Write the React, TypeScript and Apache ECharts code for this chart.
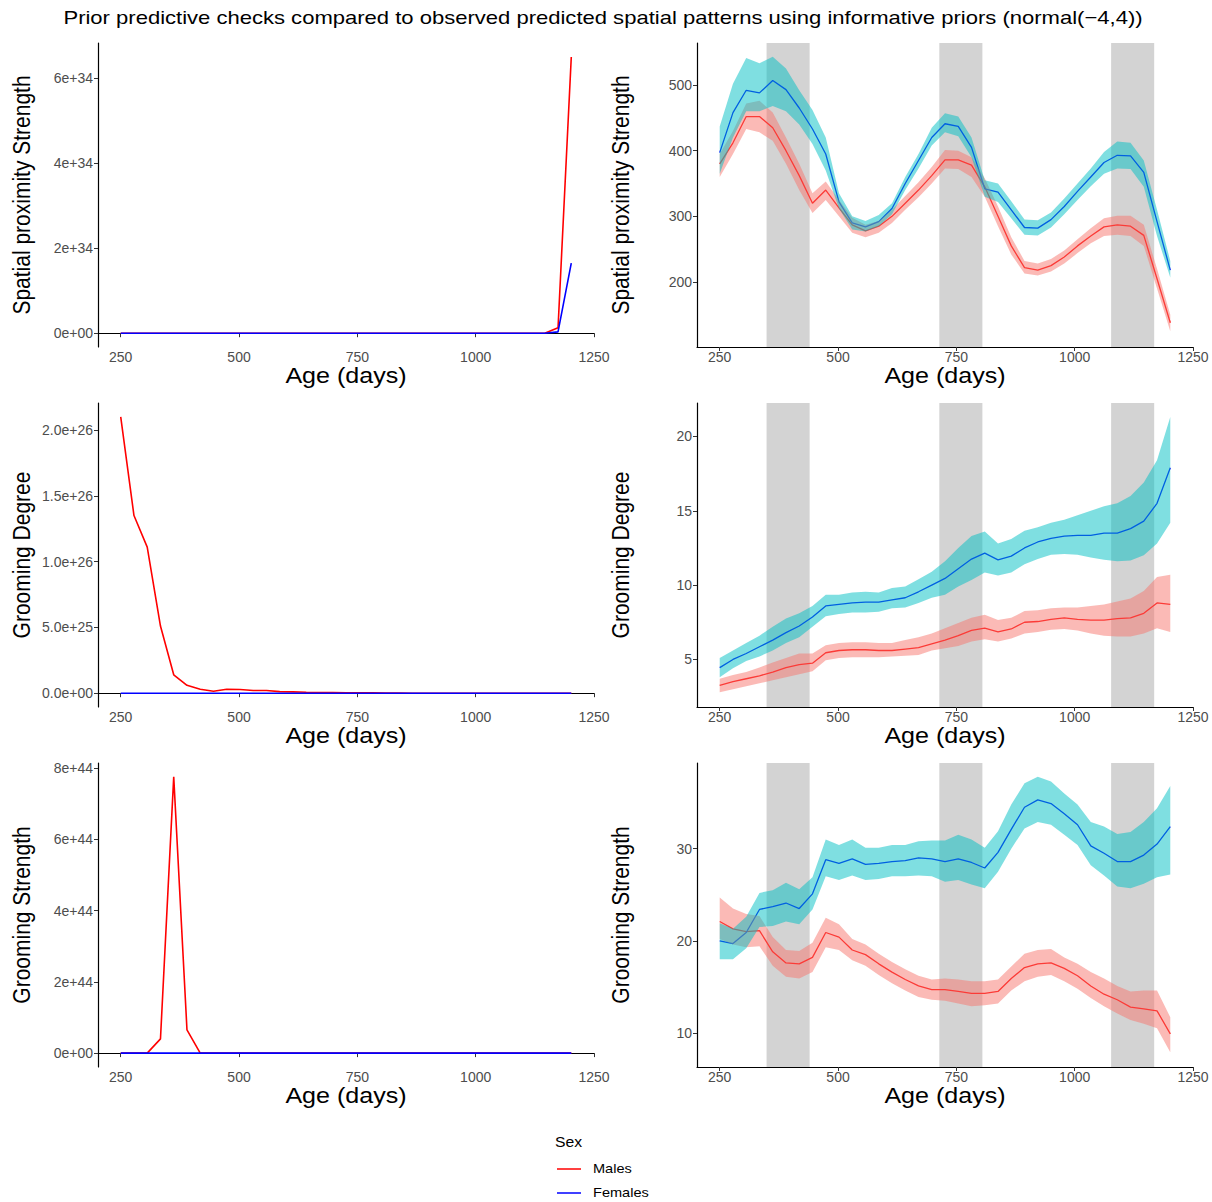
import React, { useEffect, useRef } from "react";
import * as echarts from "echarts";

// ---------- data ----------
const AGES = [250, 278, 306, 334, 362, 390, 418, 446, 474, 502, 530, 558, 586, 614, 642, 670, 698, 726, 754, 782, 810, 838, 866, 894, 922, 950, 978, 1006, 1034, 1062, 1090, 1118, 1146, 1174, 1202];

// prior predictive (left column)
const PRIOR_PROX_M = [0, 0, 0, 0, 0, 0, 0, 0, 0, 0, 0, 0, 0, 0, 0, 0, 0, 0, 0, 0, 0, 0, 0, 0, 0, 0, 0, 0, 0, 0, 0, 0, 0, 1.3e33, 6.5e34];
const PRIOR_PROX_F = [0, 0, 0, 0, 0, 0, 0, 0, 0, 0, 0, 0, 0, 0, 0, 0, 0, 0, 0, 0, 0, 0, 0, 0, 0, 0, 0, 0, 0, 0, 0, 0, 0, 3e32, 1.65e34];
const PRIOR_DEG_M = [2.1e26, 1.35e26, 1.11e26, 5.1e25, 1.4e25, 6.0e24, 3.0e24, 1.5e24, 3.0e24, 2.8e24, 2.0e24, 2.0e24, 1.2e24, 1.0e24, 7e23, 5e23, 4e23, 3e23, 2.5e23, 2e23, 1e23, 5e22, 0, 0, 0, 0, 0, 0, 0, 0, 0, 0, 0, 0, 0];
const PRIOR_DEG_F = [0, 0, 0, 0, 0, 0, 0, 0, 0, 0, 0, 0, 0, 0, 0, 0, 0, 0, 0, 0, 0, 0, 0, 0, 0, 0, 0, 0, 0, 0, 0, 0, 0, 0, 0];
const PRIOR_STR_M = [0, 0, 0, 4e43, 7.75e44, 6.5e43, 0, 0, 0, 0, 0, 0, 0, 0, 0, 0, 0, 0, 0, 0, 0, 0, 0, 0, 0, 0, 0, 0, 0, 0, 0, 0, 0, 0, 0];
const PRIOR_STR_F = [0, 0, 0, 0, 0, 0, 0, 0, 0, 0, 0, 0, 0, 0, 0, 0, 0, 0, 0, 0, 0, 0, 0, 0, 0, 0, 0, 0, 0, 0, 0, 0, 0, 0, 0];

// observed predictions (right column)
const PROX_M = [380, 412, 452, 452, 435, 400, 362, 320, 340, 313, 287, 278, 285, 300, 320, 340, 362, 386, 386, 378, 345, 300, 255, 222, 218, 225, 238, 255, 270, 284, 287, 285, 271, 205, 138];
const PROX_M_LO = [360, 395, 433, 428, 415, 380, 340, 305, 325, 300, 275, 268, 275, 290, 310, 329, 350, 373, 372, 360, 330, 285, 242, 213, 210, 216, 228, 244, 259, 270, 272, 270, 255, 190, 125];
const PROX_M_HI = [395, 430, 472, 476, 458, 420, 380, 335, 353, 325, 298, 287, 293, 310, 331, 352, 375, 401, 400, 390, 358, 315, 268, 232, 228, 235, 248, 265, 282, 297, 301, 301, 287, 220, 150];
const PROX_F = [397, 458, 492, 488, 507, 493, 465, 433, 395, 322, 290, 284, 292, 312, 350, 385, 420, 441, 437, 405, 342, 337, 310, 283, 282, 295, 315, 338, 360, 382, 393, 392, 367, 292, 218];
const PROX_F_LO = [365, 420, 460, 460, 468, 460, 440, 410, 370, 312, 280, 277, 285, 303, 340, 373, 408, 428, 422, 390, 330, 322, 297, 272, 271, 283, 303, 325, 346, 365, 373, 372, 345, 270, 207];
const PROX_F_HI = [437, 502, 541, 533, 543, 525, 492, 462, 420, 335, 300, 293, 302, 320, 360, 395, 435, 457, 452, 420, 355, 350, 323, 295, 294, 306, 327, 350, 373, 398, 414, 412, 385, 310, 232];

const DEG_M = [3.25, 3.5, 3.7, 3.9, 4.15, 4.45, 4.65, 4.75, 5.45, 5.6, 5.65, 5.65, 5.6, 5.6, 5.7, 5.8, 6.05, 6.3, 6.6, 6.95, 7.1, 6.85, 7.05, 7.5, 7.55, 7.7, 7.8, 7.7, 7.65, 7.65, 7.75, 7.8, 8.1, 8.8, 8.7];
const DEG_M_LO = [2.8, 3.0, 3.2, 3.4, 3.6, 3.8, 4.0, 4.2, 4.95, 5.1, 5.15, 5.15, 5.15, 5.2, 5.25, 5.3, 5.6, 5.75, 5.9, 6.2, 6.35, 6.2, 6.4, 6.75, 6.85, 7.0, 7.05, 6.95, 6.75, 6.6, 6.55, 6.55, 6.75, 7.1, 6.85];
const DEG_M_HI = [3.7, 3.95, 4.15, 4.45, 4.8, 5.1, 5.4, 5.4, 5.95, 6.1, 6.15, 6.15, 6.1, 6.1, 6.3, 6.5, 6.75, 7.1, 7.45, 7.8, 8.0, 7.65, 7.8, 8.25, 8.3, 8.45, 8.5, 8.5, 8.6, 8.7, 8.9, 9.1, 9.6, 10.55, 10.7];
const DEG_F = [4.45, 5.0, 5.4, 5.85, 6.3, 6.8, 7.25, 7.85, 8.6, 8.7, 8.8, 8.85, 8.85, 9.0, 9.15, 9.55, 10.0, 10.45, 11.1, 11.75, 12.15, 11.7, 11.95, 12.5, 12.9, 13.15, 13.3, 13.35, 13.35, 13.5, 13.5, 13.8, 14.3, 15.5, 17.9];
const DEG_F_LO = [3.8, 4.4, 4.9, 5.2, 5.6, 6.1, 6.5, 7.2, 7.9, 8.05, 8.15, 8.15, 8.2, 8.45, 8.5, 8.8, 9.15, 9.35, 9.9, 10.35, 10.85, 10.65, 10.85, 11.4, 11.75, 12.05, 12.1, 12.05, 11.85, 11.7, 11.6, 11.65, 12.0, 12.8, 14.2];
const DEG_F_HI = [5.1, 5.6, 6.1, 6.6, 7.2, 7.75, 8.1, 8.6, 9.35, 9.35, 9.5, 9.55, 9.5, 9.8, 9.9, 10.4, 10.9, 11.6, 12.5, 13.3, 13.6, 12.8, 13.1, 13.65, 13.9, 14.2, 14.4, 14.7, 15.0, 15.3, 15.5, 16.0, 16.9, 18.4, 21.3];

const STR_M = [22.1, 21.3, 21.0, 21.1, 18.8, 17.6, 17.5, 18.2, 20.9, 20.4, 19.0, 18.5, 17.5, 16.6, 15.8, 15.1, 14.7, 14.7, 14.5, 14.3, 14.3, 14.5, 15.9, 17.1, 17.5, 17.6, 17.0, 16.2, 15.1, 14.2, 13.6, 12.8, 12.6, 12.4, 9.9];
const STR_M_LO = [20.2, 19.6, 19.3, 19.4, 17.3, 16.1, 15.9, 16.6, 19.3, 19.0, 17.9, 17.3, 16.3, 15.4, 14.6, 13.9, 13.6, 13.5, 13.2, 12.9, 13.0, 13.2, 14.6, 15.6, 16.1, 16.3, 15.6, 14.8, 13.8, 12.9, 12.1, 11.4, 11.0, 10.5, 7.9];
const STR_M_HI = [24.7, 23.5, 22.9, 22.7, 20.4, 19.0, 18.9, 19.8, 22.5, 21.8, 20.2, 19.6, 18.6, 17.7, 16.9, 16.2, 15.8, 15.9, 15.8, 15.6, 15.6, 15.8, 17.2, 18.6, 19.0, 19.1, 18.2, 17.5, 16.6, 15.9, 15.1, 14.5, 14.6, 14.6, 11.7];
const STR_F = [20.0, 19.7, 20.9, 23.4, 23.7, 24.1, 23.5, 25.1, 28.8, 28.4, 28.9, 28.3, 28.4, 28.6, 28.7, 29.0, 28.9, 28.6, 28.9, 28.5, 27.9, 29.6, 32.1, 34.5, 35.3, 34.9, 33.8, 32.6, 30.3, 29.5, 28.6, 28.6, 29.3, 30.5, 32.4];
const STR_F_LO = [18.0, 18.0, 19.2, 21.5, 21.6, 22.1, 21.8, 23.4, 27.0, 26.6, 27.1, 26.6, 26.7, 27.0, 27.0, 27.1, 27.0, 26.4, 26.6, 26.1, 25.7, 27.5, 30.0, 32.2, 32.9, 32.6, 31.5, 30.4, 28.2, 27.1, 25.9, 25.7, 26.2, 26.9, 27.2];
const STR_F_HI = [21.9, 21.3, 22.6, 25.2, 25.5, 26.3, 25.6, 26.9, 31.0, 30.4, 31.0, 30.1, 30.1, 30.4, 30.4, 30.8, 30.9, 30.9, 31.5, 31.0, 30.1, 31.9, 34.8, 37.1, 37.8, 37.3, 36.0, 34.8, 32.9, 32.4, 31.6, 31.8, 32.9, 34.4, 36.8];

// shaded age windows
const SHADE_START = [349, 714, 1077];
const SHADE_END = [440, 805, 1168];

// ticks
const X_TICKS = [250, 500, 750, 1000, 1250];
const X_LABELS = ["250", "500", "750", "1000", "1250"];
const Y1L_TICKS = [0, 2e34, 4e34, 6e34];
const Y1L_LABELS = ["0e+00", "2e+34", "4e+34", "6e+34"];
const Y2L_TICKS = [0, 5e25, 1e26, 1.5e26, 2e26];
const Y2L_LABELS = ["0.0e+00", "5.0e+25", "1.0e+26", "1.5e+26", "2.0e+26"];
const Y3L_TICKS = [0, 2e44, 4e44, 6e44, 8e44];
const Y3L_LABELS = ["0e+00", "2e+44", "4e+44", "6e+44", "8e+44"];
const Y1R_TICKS = [200, 300, 400, 500];
const Y1R_LABELS = ["200", "300", "400", "500"];
const Y2R_TICKS = [5, 10, 15, 20];
const Y2R_LABELS = ["5", "10", "15", "20"];
const Y3R_TICKS = [10, 20, 30];
const Y3R_LABELS = ["10", "20", "30"];

const TITLE = "Prior predictive checks compared to observed predicted spatial patterns using informative priors (normal(\u22124,4))";
const Y_TITLES = ["Spatial proximity Strength", "Grooming Degree", "Grooming Strength"];
const X_TITLE = "Age (days)";
const LEGEND_TITLE = "Sex";
const LEGEND_NAMES = ["Males", "Females"];

const FONT = '"Liberation Sans", Arial, Helvetica, sans-serif';
const RED = "#ff0000";
const BLUE = "#0000ff";
const RED_FILL = "#F8766D";
const BLUE_FILL = "#00BFC4";

const COL_LEFT = [98, 697];
const ROW_TOP = [43, 403, 763];
const GRID_W = 496;
const GRID_H = 304;
const TICK_FONT = 14;

function pairs(vals: number[]) {
  return AGES.map((a, i) => [a, vals[i]]);
}

function labelFrom(ticks: number[], labels: string[]) {
  return (v: number) => {
    const k = ticks.findIndex((t) => Math.abs(t - v) <= Math.abs(t) * 1e-9 + 1e-30);
    return k < 0 ? "" : labels[k];
  };
}

function xAxisFor(gridIndex: number) {
  return {
    type: "value",
    gridIndex,
    min: 202,
    max: 1250,
    axisLine: { show: true, lineStyle: { color: "#000", width: 1.2 } },
    axisTick: { show: true, length: 4, lineStyle: { color: "#333", width: 1 }, customValues: X_TICKS },
    axisLabel: { customValues: X_TICKS, formatter: labelFrom(X_TICKS, X_LABELS), color: "#4d4d4d", fontSize: TICK_FONT, fontFamily: FONT, margin: 3, hideOverlap: false },
    splitLine: { show: false },
  };
}

function yAxisFor(gridIndex: number, min: number, max: number, ticks: number[], labels: string[]) {
  return {
    type: "value",
    gridIndex,
    min,
    max,
    axisLine: { show: true, lineStyle: { color: "#000", width: 1.2 } },
    axisTick: { show: true, length: 4, lineStyle: { color: "#333", width: 1 }, customValues: ticks },
    axisLabel: { customValues: ticks, formatter: labelFrom(ticks, labels), color: "#4d4d4d", fontSize: TICK_FONT, fontFamily: FONT, margin: 5 },
    splitLine: { show: false },
  };
}

function lineSeries(idx: number, vals: number[], color: string, width: number, z: number) {
  return {
    type: "line",
    xAxisIndex: idx,
    yAxisIndex: idx,
    data: pairs(vals),
    symbol: "none",
    showSymbol: false,
    silent: true,
    z,
    lineStyle: { color, width },
  };
}

function ribbonSeries(idx: number, lo: number[], hi: number[], color: string, z: number) {
  return {
    type: "custom",
    xAxisIndex: idx,
    yAxisIndex: idx,
    silent: true,
    z,
    data: AGES.map((a, i) => [a, lo[i], hi[i]]),
    encode: { x: 0, y: [1, 2] },
    renderItem: (params: any, api: any) => {
      if (params.dataIndex !== 0) return null;
      const pts: number[][] = [];
      for (let i = 0; i < AGES.length; i++) pts.push(api.coord([AGES[i], hi[i]]));
      for (let i = AGES.length - 1; i >= 0; i--) pts.push(api.coord([AGES[i], lo[i]]));
      return { type: "polygon", shape: { points: pts }, style: { fill: color, opacity: 0.5 } };
    },
  };
}

function shadeSeries(idx: number) {
  return {
    type: "custom",
    xAxisIndex: idx,
    yAxisIndex: idx,
    silent: true,
    z: 1,
    data: SHADE_START.map((s, i) => [s, SHADE_END[i]]),
    encode: { x: [0, 1] },
    renderItem: (params: any, api: any) => {
      const a = api.coord([api.value(0), 0]);
      const b = api.coord([api.value(1), 0]);
      const cs = params.coordSys;
      return { type: "rect", shape: { x: a[0], y: cs.y, width: b[0] - a[0], height: cs.height }, style: { fill: "#d3d3d3" } };
    },
  };
}

function text(t: string, x: number, y: number, size: number, extra: any = {}) {
  const align = extra.align || "center";
  return {
    type: "text",
    x,
    y,
    rotation: extra.rotation || 0,
    scaleX: extra.scaleX || 1,
    scaleY: extra.scaleY || 1,
    silent: true,
    style: {
      text: t,
      font: `${size}px ${FONT}`,
      fill: extra.fill || "#000",
      textAlign: align,
      textVerticalAlign: "middle",
      align,
      verticalAlign: "middle",
    },
  };
}

function buildOption() {
  const grids: any[] = [];
  for (let r = 0; r < 3; r++) {
    for (let c = 0; c < 2; c++) {
      grids.push({ left: COL_LEFT[c], top: ROW_TOP[r], width: GRID_W, height: GRID_H, containLabel: false, outerBoundsMode: "none" });
    }
  }
  const xAxes = grids.map((_, i) => xAxisFor(i));
  const yAxes = [
    yAxisFor(0, -3.25e33, 6.83e34, Y1L_TICKS, Y1L_LABELS),
    yAxisFor(1, 101, 564, Y1R_TICKS, Y1R_LABELS),
    yAxisFor(2, -1.05e25, 2.205e26, Y2L_TICKS, Y2L_LABELS),
    yAxisFor(3, 1.8, 22.25, Y2R_TICKS, Y2R_LABELS),
    yAxisFor(4, -3.9e43, 8.14e44, Y3L_TICKS, Y3L_LABELS),
    yAxisFor(5, 6.3, 39.3, Y3R_TICKS, Y3R_LABELS),
  ];

  const series: any[] = [];
  const priors = [
    [PRIOR_PROX_M, PRIOR_PROX_F],
    [PRIOR_DEG_M, PRIOR_DEG_F],
    [PRIOR_STR_M, PRIOR_STR_F],
  ];
  const obs = [
    [PROX_M, PROX_M_LO, PROX_M_HI, PROX_F, PROX_F_LO, PROX_F_HI],
    [DEG_M, DEG_M_LO, DEG_M_HI, DEG_F, DEG_F_LO, DEG_F_HI],
    [STR_M, STR_M_LO, STR_M_HI, STR_F, STR_F_LO, STR_F_HI],
  ];
  for (let r = 0; r < 3; r++) {
    const li = r * 2;
    const ri = r * 2 + 1;
    series.push(lineSeries(li, priors[r][0], RED, 1.6, 2));
    series.push(lineSeries(li, priors[r][1], BLUE, 1.6, 3));
    const o = obs[r];
    series.push(shadeSeries(ri));
    series.push(lineSeries(ri, o[0], RED, 1.3, 2));
    series.push(lineSeries(ri, o[3], BLUE, 1.3, 2));
    series.push(ribbonSeries(ri, o[1], o[2], RED_FILL, 3));
    series.push(ribbonSeries(ri, o[4], o[5], BLUE_FILL, 4));
  }

  const graphics: any[] = [];
  graphics.push(text(TITLE, 603, 17, 19, { scaleX: 1.16 }));
  for (let r = 0; r < 3; r++) {
    const cy = ROW_TOP[r] + GRID_H / 2;
    const ty = ROW_TOP[r] + GRID_H + 29;
    for (let c = 0; c < 2; c++) {
      graphics.push(text(Y_TITLES[r], COL_LEFT[c] - 76, cy, 21, { rotation: Math.PI / 2, scaleY: 1.12 }));
      graphics.push(text(X_TITLE, COL_LEFT[c] + GRID_W / 2, ty, 22, { scaleX: 1.14 }));
    }
  }
  // legend
  graphics.push(text(LEGEND_TITLE, 555, 1142, 15, { align: "left", scaleX: 1.05 }));
  const legendColors = [RED, BLUE];
  const legendY = [1169, 1193];
  for (let k = 0; k < 2; k++) {
    graphics.push({ type: "line", silent: true, shape: { x1: 557, y1: legendY[k], x2: 581, y2: legendY[k] }, style: { stroke: legendColors[k], lineWidth: 1.5 } });
    graphics.push(text(LEGEND_NAMES[k], 593, legendY[k], 13, { align: "left", scaleX: 1.12 }));
  }

  return {
    animation: false,
    backgroundColor: "#ffffff",
    grid: grids,
    xAxis: xAxes,
    yAxis: yAxes,
    series,
    graphic: { elements: graphics },
  };
}

export default function App() {
  const ref = useRef<HTMLDivElement | null>(null);
  useEffect(() => {
    if (!ref.current) return;
    const chart = echarts.init(ref.current, null, { renderer: "svg" });
    chart.setOption(buildOption() as any);
    return () => {
      chart.dispose();
    };
  }, []);
  return <div ref={ref} style={{ position: "absolute", left: 0, top: 0, width: 1212, height: 1202, background: "#fff" }} />;
}
